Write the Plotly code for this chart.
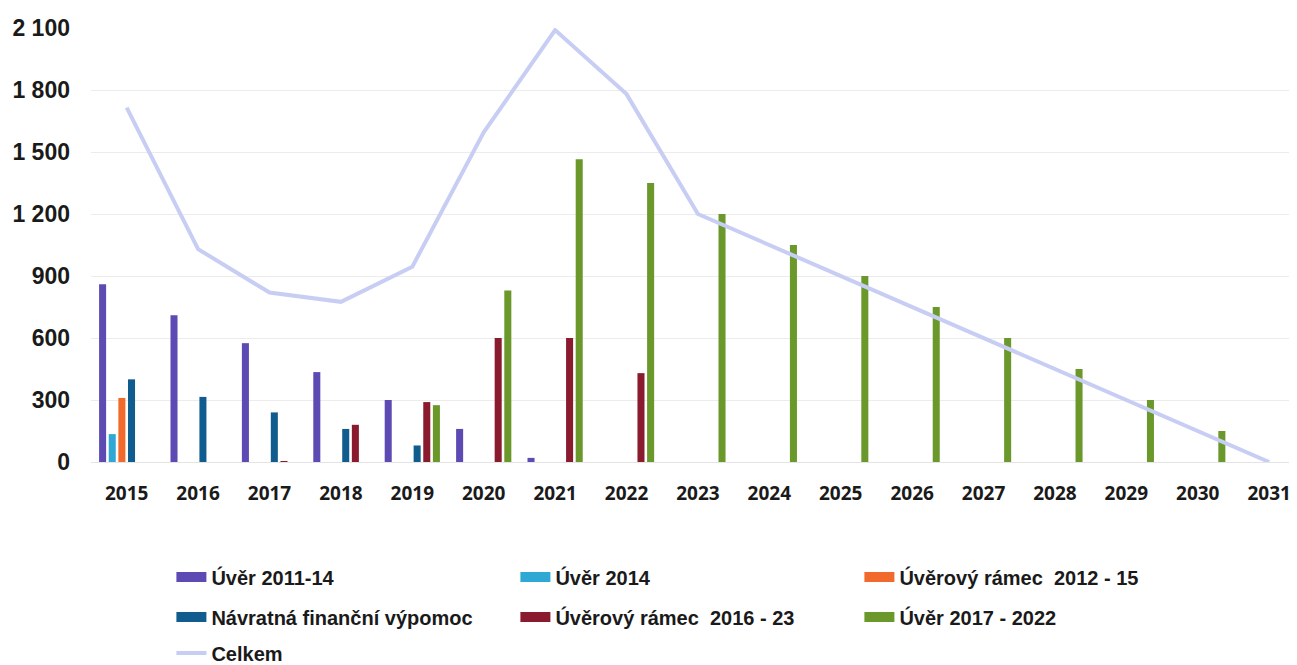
import plotly.graph_objects as go

years = [str(y) for y in range(2015, 2032)]

uver_2011_14 = [860, 710, 575, 435, 300, 160, 20, 0, 0, 0, 0, 0, 0, 0, 0, 0, 0]
uver_2014 = [135, 0, 0, 0, 0, 0, 0, 0, 0, 0, 0, 0, 0, 0, 0, 0, 0]
ramec_2012_15 = [310, 0, 0, 0, 0, 0, 0, 0, 0, 0, 0, 0, 0, 0, 0, 0, 0]
navratna = [400, 315, 240, 160, 80, 0, 0, 0, 0, 0, 0, 0, 0, 0, 0, 0, 0]
ramec_2016_23 = [0, 0, 3, 180, 290, 600, 600, 430, 0, 0, 0, 0, 0, 0, 0, 0, 0]
uver_2017_2022 = [0, 0, 0, 0, 275, 830, 1465, 1350, 1200, 1050, 900, 750, 600, 450, 300, 150, 0]
celkem = [1715, 1030, 820, 775, 945, 1595, 2090, 1780, 1200, 1050, 900, 750, 600, 450, 300, 150, 0]

series = [
    ("Úvěr 2011-14", uver_2011_14, "#5D4BB3", "legend"),
    ("Úvěr 2014", uver_2014, "#2FA9D3", "legend"),
    ("Úvěrový rámec  2012 - 15", ramec_2012_15, "#F26A2B", "legend"),
    ("Návratná finanční výpomoc", navratna, "#115C8F", "legend2"),
    ("Úvěrový rámec  2016 - 23", ramec_2016_23, "#8A1B2F", "legend2"),
    ("Úvěr 2017 - 2022", uver_2017_2022, "#6A982B", "legend2"),
]

W, H = 1289, 657  # page body has an 8px offset

fig = go.Figure()
for name, vals, color, lg in series:
    fig.add_trace(go.Bar(x=years, y=vals, name=name, marker_color=color,
                         marker_line_width=0, showlegend=False, legendgroup=name))
    fig.add_trace(go.Scatter(x=[None], y=[None], mode="lines", name=name,
                             line=dict(color=color, width=10), legend=lg,
                             legendgroup=name))

fig.add_trace(go.Scatter(x=years, y=celkem, mode="lines", name="Celkem",
                         line=dict(color="#C8CEF3", width=4), legend="legend3"))

legend_font = dict(family="Liberation Sans, Arial", size=20, weight="bold",
                   color="#1a1a1a")
def lg(py):
    return dict(orientation="h", xref="container", yref="container", x=163.4 / W,
                y=1 - py / H, xanchor="left", yanchor="middle", entrywidth=299,
                entrywidthmode="pixels", font=legend_font, bgcolor="rgba(0,0,0,0)",
                itemclick=False, itemdoubleclick=False)

fig.update_layout(
    width=W, height=H,
    margin=dict(l=83, r=0, t=20, b=203, autoexpand=False),
    paper_bgcolor="white", plot_bgcolor="white",
    barmode="group", bargap=0.19, bargroupgap=0.27,
    separators=", ",
    showlegend=True,
    legend=lg(569),
    legend2=lg(609),
    legend3=lg(645),
    xaxis=dict(type="category", range=[-0.5, 16.39], showgrid=False, automargin=False,
               showline=False, ticks="", ticklabelstandoff=18,
               tickfont=dict(family="Open Sans", size=19, color="#1a1a1a", weight="bold")),
    yaxis=dict(range=[0, 2100], tickvals=[0, 300, 600, 900, 1200, 1500, 1800, 2100],
               tickformat=",d", showgrid=True, gridcolor="#ECECEC", gridwidth=1,
               zeroline=True, zerolinecolor="#E4E4E4", zerolinewidth=1,
               ticklabelstandoff=20, automargin=False,
               tickfont=dict(family="Liberation Sans, Arial", size=23, color="#1a1a1a",
                             weight="bold")),
)

fig.write_html("out.html")
